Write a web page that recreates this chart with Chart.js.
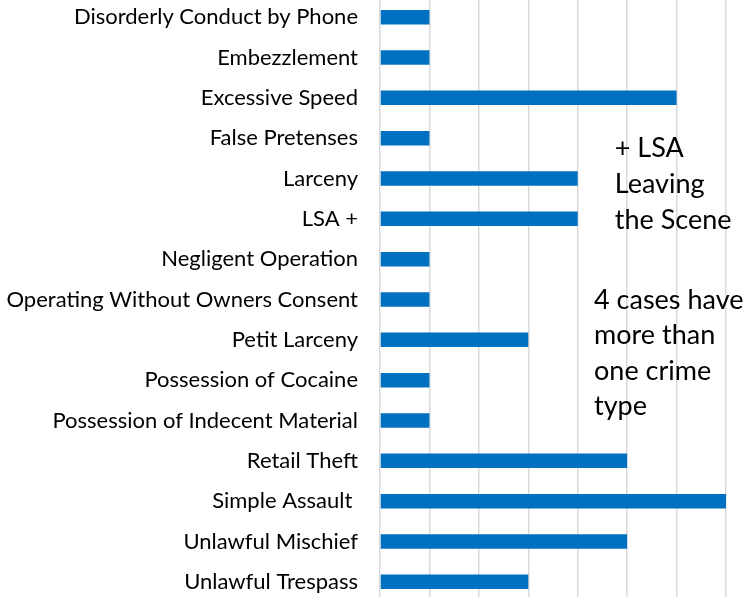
<!DOCTYPE html>
<html>
<head>
<meta charset="utf-8">
<script src="https://cdn.jsdelivr.net/npm/chart.js@4.4.0/dist/chart.umd.min.js"></script>
<style>
  html, body { margin: 0; padding: 0; background: #fff; overflow: hidden; }
  #wrap { position: absolute; left: 0; top: -3px; width: 749px; height: 605px; }
</style>
</head>
<body>
<div id="wrap"><canvas id="crimeChart"></canvas></div>
<script>
// categories and counts
const crimes = [
  'Disorderly Conduct by Phone',
  'Embezzlement',
  'Excessive Speed',
  'False Pretenses',
  'Larceny',
  'LSA +',
  'Negligent Operation',
  'Operating Without Owners Consent',
  'Petit Larceny',
  'Possession of Cocaine',
  'Possession of Indecent Material',
  'Retail Theft',
  'Simple Assault ',
  'Unlawful Mischief',
  'Unlawful Trespass'
];
const cases = [1, 1, 6, 1, 4, 4, 1, 1, 3, 1, 1, 5, 7, 5, 3];
const note1 = ['+ LSA', 'Leaving', 'the Scene'];
const note2 = ['4 cases have', 'more than', 'one crime', 'type'];

const fuente = "Lato, 'Open Sans', sans-serif";

const notas = {
  id: 'notas',
  afterDraw(chart) {
    const ctx = chart.ctx;
    const x = chart.scales.x;
    ctx.save();
    ctx.fillStyle = '#000';
    ctx.font = '27px ' + fuente;
    ctx.textBaseline = 'middle';
    ctx.textAlign = 'left';
    let y = 151;
    for (const t of note1) { ctx.fillText(t, x.getPixelForValue(4.75), y); y += 36; }
    y = 303;
    for (const t of note2) { ctx.fillText(t, x.getPixelForValue(4.33), y); y += 35.5; }
    ctx.restore();
  }
};

new Chart('crimeChart', {
  type: 'bar',
  data: {
    labels: crimes,
    datasets: [{
      data: cases,
      backgroundColor: '#0070C0',
      borderColor: '#0070C0',
      categoryPercentage: 1,
      barPercentage: 0.36
    }]
  },
  options: {
    indexAxis: 'y',
    responsive: true,
    maintainAspectRatio: false,
    animation: false,
    layout: { padding: { left: 0, right: 23, top: 0, bottom: 0 } },
    plugins: { legend: { display: false }, tooltip: { enabled: false } },
    scales: {
      x: {
        min: 0, max: 7,
        ticks: { display: false, stepSize: 1 },
        grid: { color: '#D9D9D9', lineWidth: 1.5, drawTicks: false },
        border: { display: false },
        afterFit(scale) {
          scale.height = 0;
          scale.paddingLeft = scale.paddingRight = 0;
        }
      },
      y: {
        ticks: { color: '#000', font: { family: fuente, size: 22 }, padding: 22 },
        grid: { display: false, drawTicks: false },
        border: { display: false },
        afterFit(scale) {
          scale.width = 380;
          scale.paddingTop = scale.paddingBottom = 0;
        }
      }
    }
  },
  plugins: [notas]
});
</script>
</body>
</html>
